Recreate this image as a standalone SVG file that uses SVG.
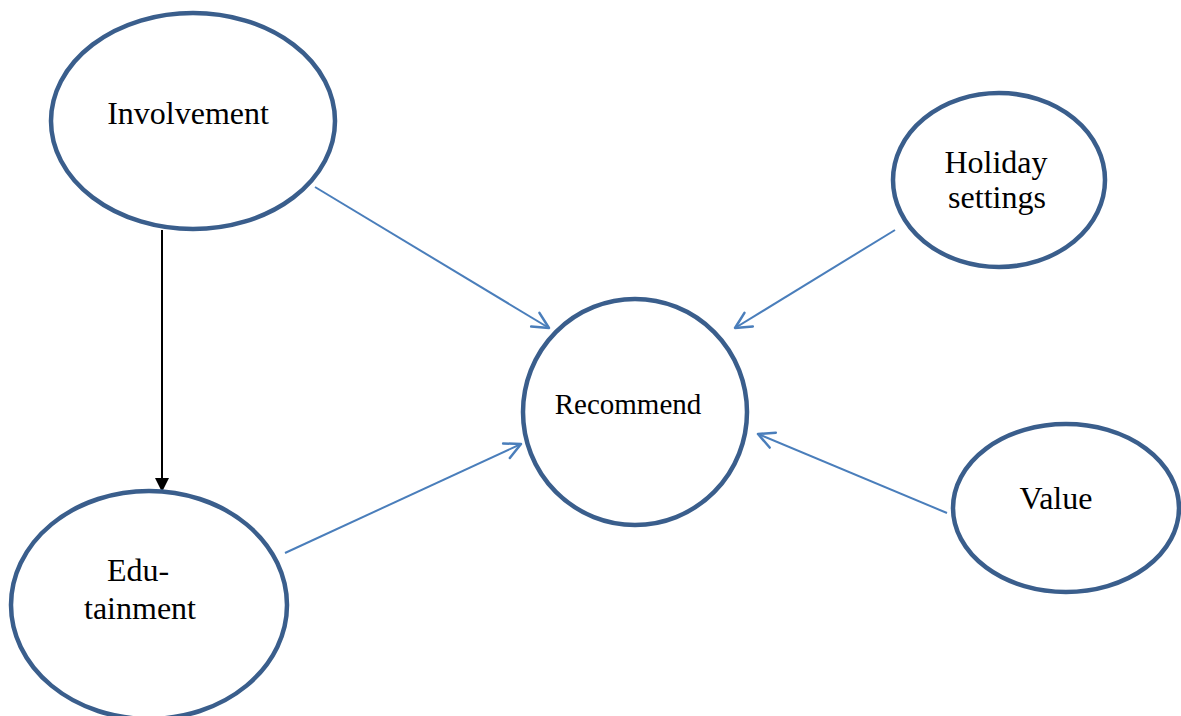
<svg xmlns="http://www.w3.org/2000/svg" width="1181" height="716" viewBox="0 0 1181 716">
<defs>
<style>
.node{fill:#fff;stroke:#3A5E8C;stroke-width:4.5}
.lbl{font-family:"Liberation Serif","Times New Roman",serif;font-size:32px;fill:#000}
.sm{font-size:29px}
.blue{stroke:#4A7EBB;stroke-width:2;fill:none}
</style>
<marker id="open" viewBox="0 0 20 20" refX="18" refY="10" markerWidth="20" markerHeight="20" markerUnits="userSpaceOnUse" orient="auto">
<path d="M2,2 L18,10 L2,18" fill="none" stroke="#4A7EBB" stroke-width="2.5" stroke-linecap="round" stroke-linejoin="round"/>
</marker>
<marker id="solid" viewBox="0 0 14 20" refX="14" refY="7" markerWidth="14" markerHeight="20" markerUnits="userSpaceOnUse" orient="auto">
<path d="M0,0 L14,7 L0,14 Z" fill="#000"/>
</marker>
</defs>
<rect width="1181" height="716" fill="#fff"/>
<g id="connectors">
<line x1="162" y1="230" x2="162" y2="492" stroke="#000" stroke-width="2" marker-end="url(#solid)"/>
<line class="blue" x1="315" y1="187" x2="549" y2="328" marker-end="url(#open)"/>
<line class="blue" x1="895" y1="230" x2="735" y2="328" marker-end="url(#open)"/>
<line class="blue" x1="285" y1="553" x2="521" y2="444" marker-end="url(#open)"/>
<line class="blue" x1="947" y1="513" x2="758" y2="434" marker-end="url(#open)"/>
</g>
<g id="involvement">
<ellipse class="node" cx="193" cy="121" rx="142" ry="108"/>
<text class="lbl" x="188" y="124" text-anchor="middle">Involvement</text>
</g>
<g id="holiday">
<ellipse class="node" cx="999" cy="180" rx="106" ry="87"/>
<text class="lbl" x="996" y="173" text-anchor="middle">Holiday</text>
<text class="lbl" x="997" y="208" text-anchor="middle">settings</text>
</g>
<g id="recommend">
<ellipse class="node" cx="635" cy="412" rx="112" ry="113"/>
<text class="lbl sm" x="628" y="414" text-anchor="middle">Recommend</text>
</g>
<g id="value">
<ellipse class="node" cx="1066" cy="508" rx="113" ry="84"/>
<text class="lbl" x="1056" y="509" text-anchor="middle">Value</text>
</g>
<g id="edutainment">
<ellipse class="node" cx="149" cy="605" rx="138" ry="114"/>
<text class="lbl" x="138" y="581" text-anchor="middle">Edu-</text>
<text class="lbl" x="140" y="619" text-anchor="middle">tainment</text>
</g>
</svg>
